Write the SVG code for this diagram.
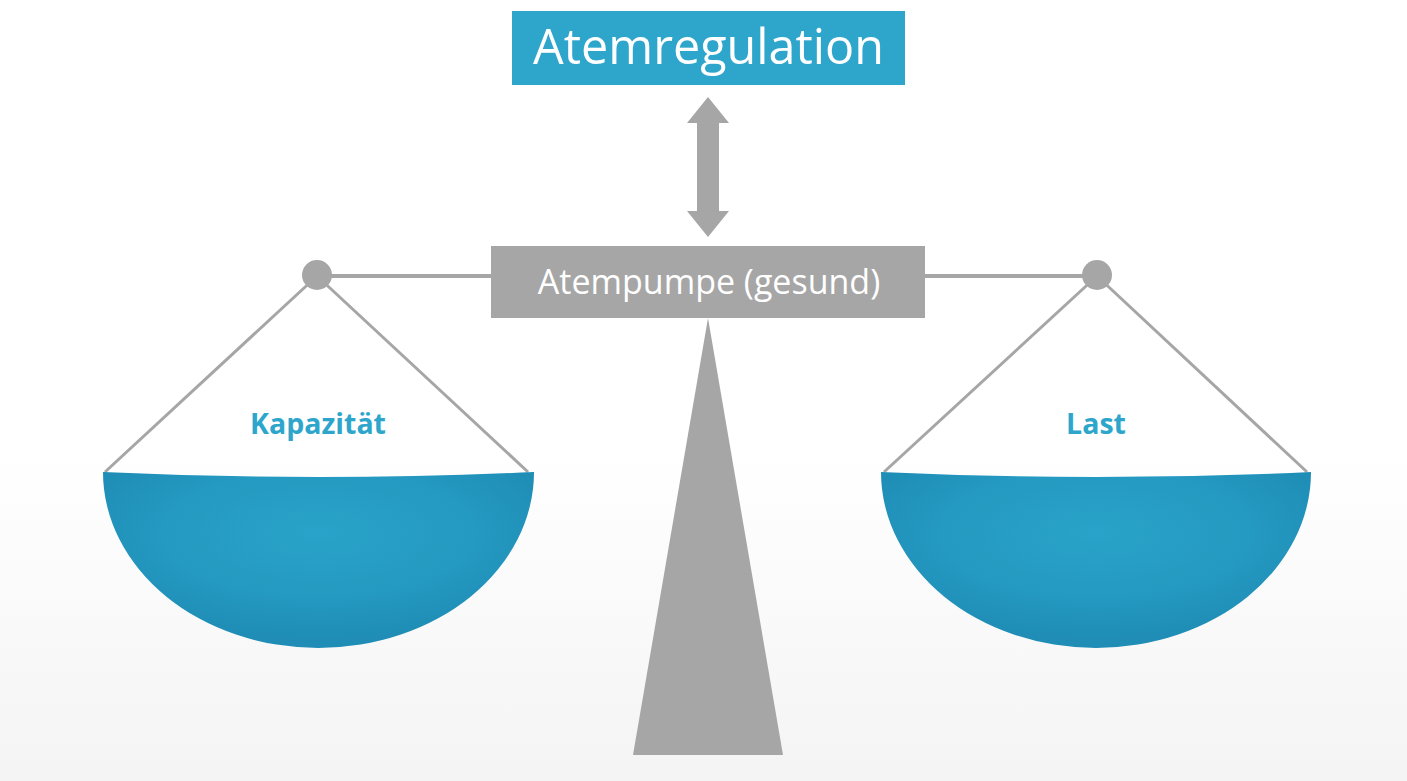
<svg xmlns="http://www.w3.org/2000/svg" width="1407" height="781" viewBox="0 0 1407 781">
<defs>
<linearGradient id="bg" x1="0" y1="0" x2="0" y2="781" gradientUnits="userSpaceOnUse">
<stop offset="0" stop-color="#ffffff"/>
<stop offset="0.58" stop-color="#ffffff"/>
<stop offset="1" stop-color="#f4f4f4"/>
</linearGradient>
<radialGradient id="pan" cx="0.5" cy="0.35" r="0.6">
<stop offset="0" stop-color="#29a3c9"/>
<stop offset="0.6" stop-color="#2499c1"/>
<stop offset="1" stop-color="#1f8db6"/>
</radialGradient>
<style>
.grey{fill:#a6a6a6}
.wire{stroke:#a6a6a6;stroke-width:3;fill:none}
.beam{stroke:#a6a6a6;stroke-width:4;fill:none}
.pan{fill:url(#pan)}
.lbl{font-family:"Open Sans","Liberation Sans",sans-serif;font-weight:bold;font-size:28.5px;fill:#2ea6cc;text-anchor:middle}
.wt{font-family:"Open Sans","Liberation Sans",sans-serif;fill:#ffffff;text-anchor:middle}
</style>
</defs>
<rect x="0" y="0" width="1407" height="781" fill="url(#bg)"/>

<g id="fulcrum">
<polygon class="grey" points="708,318 633,755 783,755"/>
</g>

<g id="connectors">
<line class="beam" x1="317" y1="276" x2="1097" y2="276"/>
<polygon class="grey" points="708,97 729,123 719,123 719,211 729,211 708,237 687,211 697,211 697,123 687,123"/>
<line class="wire" x1="317" y1="276" x2="105" y2="472"/>
<line class="wire" x1="317" y1="276" x2="528" y2="472"/>
<line class="wire" x1="1097" y1="276" x2="884" y2="472"/>
<line class="wire" x1="1097" y1="276" x2="1307" y2="472"/>
<circle class="grey" cx="317" cy="275" r="15"/>
<circle class="grey" cx="1097" cy="275" r="15"/>
</g>

<g id="atemregulation">
<rect x="512" y="11" width="393" height="74" fill="#2ea6cc"/>
<text class="wt" x="708.5" y="64" font-size="48.5">Atemregulation</text>
</g>

<g id="atempumpe">
<rect x="491" y="246" width="434" height="72" class="grey"/>
<text class="wt" x="709" y="294" font-size="34">Atempumpe (gesund)</text>
</g>

<g id="kapazitaet">
<path class="pan" d="M103,472 Q318.5,482 534,472 A215.5,176 0 0 1 103,472 Z"/>
<text class="lbl" x="318" y="434">Kapazität</text>
</g>

<g id="last">
<path class="pan" d="M881,472 Q1096,482 1311,472 A215,176 0 0 1 881,472 Z"/>
<text class="lbl" x="1096" y="434">Last</text>
</g>
</svg>
